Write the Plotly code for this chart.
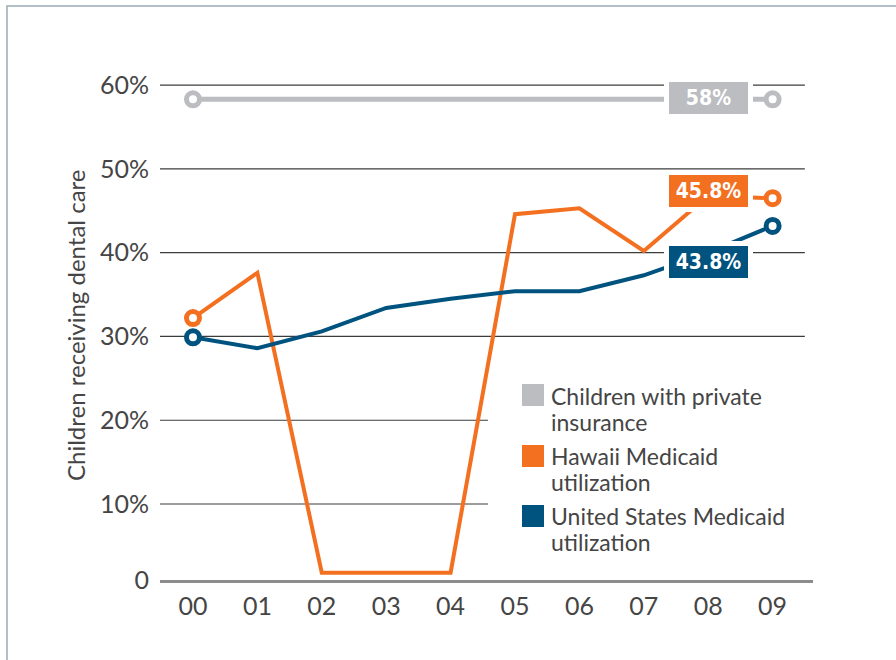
import plotly.graph_objects as go

# ---- data ----
years = ["00", "01", "02", "03", "04", "05", "06", "07", "08", "09"]
private_ins = [58.3, 58.3, 58.3, 58.3, 58.3, 58.3, 58.3, 58.3, 58.3, 58.3]
hawaii = [32.2, 37.6, 1.8, 1.8, 1.8, 44.6, 45.3, 40.2, 46.8, 46.5]
us = [29.9, 28.6, 30.6, 33.4, 34.5, 35.4, 35.4, 37.3, 40.0, 43.2]
y_ticks = [0, 10, 20, 30, 40, 50, 60]
y_tick_text = ["0", "10%", "20%", "30%", "40%", "50%", "60%"]
series_names = [["Children with private", "insurance"], ["Hawaii Medicaid", "utilization"],
                ["United States Medicaid", "utilization"]]
end_labels = ["58%", "45.8%", "43.8%"]

GRAY = "#BCBDC0"
ORANGE = "#F37021"
BLUE = "#00537F"
TEXT = "#454545"

W, H = 896, 660
ML, MR, MT, MB = 160, 83, 60, 80
PW, PH = W - ML - MR, H - MT - MB


def px_x(px):
    return (px - ML) / PW


def px_y(py):
    return (H - MB - py) / PH


xi = list(range(len(years)))
fig = go.Figure()

for vals, col, lw in [(private_ins, GRAY, 5), (hawaii, ORANGE, 4), (us, BLUE, 4)]:
    fig.add_trace(go.Scatter(x=xi, y=vals, mode="lines",
                             line=dict(color=col, width=lw), showlegend=False,
                             hoverinfo="skip"))
    fig.add_trace(go.Scatter(x=[xi[0], xi[-1]], y=[vals[0], vals[-1]], mode="markers",
                             marker=dict(size=13, color="white",
                                         line=dict(color=col, width=5)),
                             showlegend=False, hoverinfo="skip"))

shapes = []
# gridlines
for v in y_ticks[1:]:
    xend = 9.5 if v >= 30 else 4.58
    shapes.append(dict(type="line", xref="x", yref="y", x0=-0.512, x1=xend, y0=v, y1=v,
                       line=dict(color="#3C3C3C", width=1.2), layer="below"))
# frame
shapes.append(dict(type="rect", xref="paper", yref="paper",
                   x0=px_x(7), x1=px_x(910), y0=px_y(680), y1=px_y(6),
                   line=dict(color="#9AAAB4", width=1.5), layer="below"))
# legend squares
legend_cols = [GRAY, ORANGE, BLUE]
legend_tops = [384, 445, 505]
for col, top in zip(legend_cols, legend_tops):
    shapes.append(dict(type="rect", xref="paper", yref="paper",
                       x0=px_x(522), x1=px_x(544), y0=px_y(top + 22), y1=px_y(top),
                       fillcolor=col, line=dict(width=0)))

annotations = []
legend_line_centers = [(396, 422), (456, 482), (516, 542)]
for lines, centers in zip(series_names, legend_line_centers):
    for line_txt, c in zip(lines, centers):
        annotations.append(dict(xref="paper", yref="paper", x=px_x(549), y=px_y(c),
                                xanchor="left", yanchor="middle", align="left",
                                text=line_txt, showarrow=False,
                                font=dict(family="Lato", size=23, color=TEXT)))

# end value labels
label_centers = [98, 191, 262]
for txt, col, c in zip(end_labels, legend_cols, label_centers):
    annotations.append(dict(xref="x", yref="paper", x=8, y=px_y(c),
                            xanchor="center", yanchor="middle", text=txt,
                            showarrow=False, width=79, height=32, borderpad=0,
                            borderwidth=5, bordercolor="white", bgcolor=col,
                            font=dict(family="DejaVu Sans Condensed",
                                      size=21, color="white", weight="bold")))

# y title
annotations.append(dict(xref="paper", yref="paper", x=px_x(75), y=px_y(325),
                        xanchor="center", yanchor="middle", textangle=-90,
                        text="Children receiving dental care", showarrow=False,
                        font=dict(family="Lato", size=24, color=TEXT)))

y_tickvals = [0.93] + y_ticks[1:]

fig.update_layout(
    width=W, height=H,
    margin=dict(l=ML, r=MR, t=MT, b=MB),
    paper_bgcolor="white", plot_bgcolor="white",
    shapes=shapes, annotations=annotations,
    xaxis=dict(range=[-0.512, 9.627], tickmode="array", tickvals=xi, ticktext=years,
               showgrid=False, zeroline=False, showline=True, linecolor="#8C8C8C",
               linewidth=3, ticks="", ticklabelstandoff=2,
               tickfont=dict(family="Lato", size=25, color=TEXT)),
    yaxis=dict(range=[0.93, 63], tickmode="array", tickvals=y_tickvals,
               ticktext=y_tick_text, showgrid=False, zeroline=False, showline=False,
               ticks="", ticklabelstandoff=10,
               tickfont=dict(family="Lato", size=25, color=TEXT)),
    showlegend=False,
)

fig.write_html("out.html")
